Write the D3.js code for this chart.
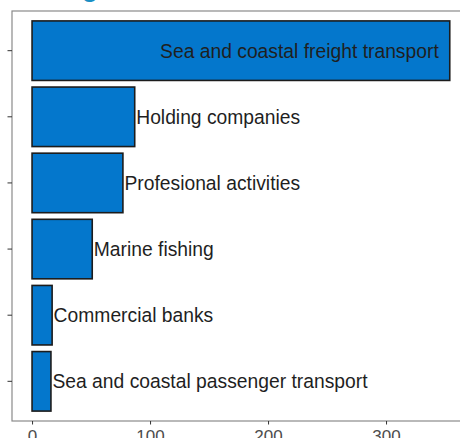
<!DOCTYPE html>
<html>
<head>
<meta charset="utf-8">
<script src="https://cdn.jsdelivr.net/npm/d3@7"></script>
<style>
  body { margin: 0; background: #fff; }
  svg { display: block; font-family: "Liberation Sans", Arial, sans-serif; }
</style>
</head>
<body>
<script>
// sectors, top to bottom
const sectors = [
  'Sea and coastal freight transport',
  'Holding companies',
  'Profesional activities',
  'Marine fishing',
  'Commercial banks',
  'Sea and coastal passenger transport'
]
const values = [354, 87, 77, 51, 17, 16]
const xTicks = [0, 100, 200, 300]

const width = 460
const height = 438

const panel = { left: 12, top: 11, bottom: 421, right: 471 }

const svg = d3.select('body').append('svg')
  .attr('width', width)
  .attr('height', height)

// title, mostly above the crop
svg.append('text')
  .attr('x', 82)
  .attr('y', -3)
  .attr('font-size', 26)
  .attr('font-weight', 'bold')
  .attr('fill', '#1a8fc4')
  .text('g')

const x = d3.scaleLinear()
  .domain([-17, 372])
  .range([panel.left, panel.right])

const y = d3.scaleBand()
  .domain(sectors)
  .range([panel.top, panel.bottom])
  .paddingInner(0.1)
  .paddingOuter(0.15)

// panel border
svg.append('rect')
  .attr('x', panel.left)
  .attr('y', panel.top)
  .attr('width', panel.right - panel.left)
  .attr('height', panel.bottom - panel.top)
  .attr('fill', 'none')
  .attr('stroke', '#8a8a8a')
  .attr('stroke-width', 1.2)

// axes
const xAxis = svg.append('g')
  .attr('transform', `translate(0,${panel.bottom})`)
  .call(d3.axisBottom(x).tickValues(xTicks).tickSize(3.5).tickPadding(5.5))
xAxis.select('.domain').remove()
xAxis.selectAll('line').attr('stroke', '#333')
xAxis.selectAll('text')
  .attr('font-size', 17)
  .attr('font-family', '"Liberation Sans", Arial, sans-serif')
  .attr('fill', '#4d4d4d')

const yAxis = svg.append('g')
  .attr('transform', `translate(${panel.left},0)`)
  .call(d3.axisLeft(y).tickSize(4.5).tickFormat(''))
yAxis.select('.domain').remove()
yAxis.selectAll('line').attr('stroke', '#333')

// bars
const data = sectors.map((s, i) => ({ sector: s, value: values[i] }))

svg.selectAll('.bar')
  .data(data)
  .enter()
  .append('rect')
  .attr('class', 'bar')
  .attr('x', x(0))
  .attr('y', (d) => y(d.sector))
  .attr('width', (d) => x(d.value) - x(0))
  .attr('height', y.bandwidth())
  .attr('fill', '#0477cc')
  .attr('stroke', '#1c1c1c')
  .attr('stroke-width', 1.6)

// labels: inside for the largest bar, outside for the rest
svg.selectAll('.lbl')
  .data(data)
  .enter()
  .append('text')
  .attr('class', 'lbl')
  .attr('x', (d, i) => i === 0 ? x(d.value) - 11 : x(d.value) + 1.5)
  .attr('y', (d) => y(d.sector) + y.bandwidth() / 2 + 7)
  .attr('text-anchor', (d, i) => i === 0 ? 'end' : 'start')
  .attr('font-size', 19.3)
  .attr('fill', '#1f1f1f')
  .text((d) => d.sector)
</script>
</body>
</html>
